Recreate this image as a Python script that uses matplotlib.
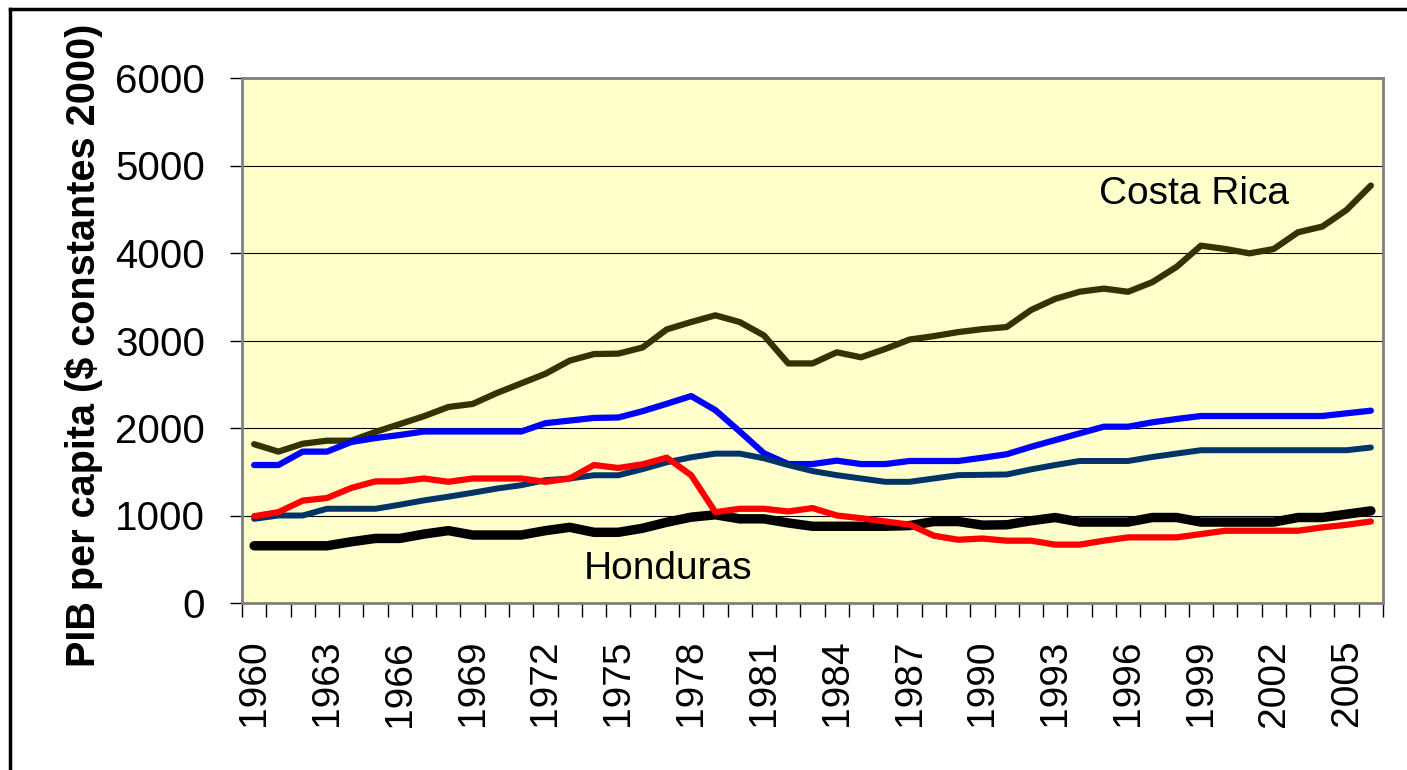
import matplotlib
matplotlib.use("Agg")
import matplotlib.pyplot as plt
from matplotlib.lines import Line2D
from matplotlib.ticker import FixedLocator, NullFormatter
from matplotlib import font_manager

years = list(range(1960, 2007))

costa_rica = [1815, 1730, 1820, 1855, 1855, 1955, 2045, 2135, 2240, 2275,
              2400, 2510, 2620, 2770, 2845, 2850, 2920, 3127, 3211, 3288,
              3211, 3058, 2738, 2738, 2865, 2808, 2904, 3011, 3050, 3096,
              3130, 3154, 3348, 3476, 3557, 3593, 3557, 3667, 3842, 4084,
              4046, 3996, 4046, 4237, 4302, 4492, 4771]

blue_series = [1577, 1577, 1730, 1730, 1840, 1885, 1920, 1960, 1960, 1960,
               1960, 1960, 2055, 2085, 2115, 2120, 2192, 2277, 2365, 2204,
               1961, 1711, 1588, 1588, 1627, 1588, 1588, 1623, 1623, 1623,
               1660, 1700, 1785, 1862, 1938, 2015, 2015, 2065, 2103, 2137,
               2137, 2137, 2137, 2137, 2137, 2168, 2198]

navy_series = [962, 1000, 1000, 1077, 1077, 1077, 1123, 1173, 1215, 1260,
               1308, 1346, 1404, 1423, 1460, 1460, 1530, 1608, 1665, 1707,
               1707, 1654, 1577, 1508, 1461, 1423, 1385, 1385, 1423, 1461,
               1465, 1469, 1527, 1577, 1623, 1623, 1623, 1669, 1708, 1746,
               1746, 1746, 1746, 1746, 1746, 1746, 1777]

red_series = [992, 1038, 1170, 1200, 1315, 1390, 1390, 1423, 1385, 1423,
              1423, 1423, 1385, 1423, 1577, 1543, 1585, 1661, 1461, 1038,
              1077, 1077, 1046, 1085, 1000, 969, 931, 896, 769, 723,
              737, 712, 712, 667, 667, 712, 750, 750, 750, 788,
              826, 826, 826, 826, 864, 894, 932]

honduras = [654, 654, 654, 654, 700, 738, 738, 788, 827, 777,
            777, 777, 827, 865, 808, 808, 854, 923, 981, 1008,
            962, 962, 915, 877, 877, 877, 877, 885, 931, 931,
            890, 894, 940, 977, 925, 925, 925, 977, 977, 925,
            925, 925, 925, 977, 977, 1015, 1053]

label_years = years[::3]
yticks = [0, 1000, 2000, 3000, 4000, 5000, 6000]

plt.rcParams['font.family'] = ['Liberation Sans', 'DejaVu Sans']

installed = {f.name for f in font_manager.fontManager.ttflist}
if 'Liberation Sans Narrow' in installed:
    ytick_font = dict(family='Liberation Sans Narrow', size=35)
else:
    ytick_font = dict(family='Liberation Sans', size=29)

W, H = 1407, 770
fig = plt.figure(figsize=(W / 100, H / 100), dpi=100)
fig.patch.set_facecolor('white')

ax = fig.add_axes([242 / W, 1 - 603 / H, (1383 - 242) / W, (603 - 78) / H])
ax.set_facecolor('#FFFFCC')

x = list(range(len(years)))
kw = dict(solid_capstyle='round', solid_joinstyle='round')
ax.plot(x, costa_rica, color='#333300', lw=4.5, zorder=3, **kw)
ax.plot(x, blue_series, color='#0000FF', lw=4.5, zorder=3, **kw)
ax.plot(x, navy_series, color='#003366', lw=4.3, zorder=3, **kw)
ax.plot(x, red_series, color='#FF0000', lw=4.5, zorder=4, **kw)
ax.plot(x, honduras, color='#000000', lw=6.8, zorder=3, **kw)

ax.set_xlim(-0.5, len(years) - 0.5)
ax.set_ylim(0, 6000)

ax.set_yticks(yticks)
ax.set_yticklabels([str(v) for v in yticks])
for t in ax.get_yticklabels():
    t.set_fontfamily(ytick_font['family'])
    t.set_fontsize(ytick_font['size'])
ax.yaxis.grid(True, color='#000000', lw=0.8)
ax.set_axisbelow(True)
ax.tick_params(axis='y', direction='out', length=8.6, width=1, color='#000000', pad=18)

label_pos = [years.index(y) for y in label_years]
ax.set_xticks(label_pos)
ax.set_xticklabels([str(y) for y in label_years], rotation=90, fontsize=28)
ax.tick_params(axis='x', which='major', length=0, pad=26.5)
ax.xaxis.set_minor_locator(FixedLocator([i - 0.5 for i in range(len(years) + 1)]))
ax.xaxis.set_minor_formatter(NullFormatter())
ax.tick_params(axis='x', which='minor', direction='out', length=10, width=1, color='#000000')

for s in ax.spines.values():
    s.set_color('#808080')
    s.set_linewidth(2)

fig.text(84 / W, 1 - 345 / H, 'PIB per capita ($ constantes 2000)', fontsize=28.5,
         fontweight='bold', rotation=90, ha='center', va='center')

ax.text(38.7, 4675, 'Costa Rica', fontsize=28, ha='center', va='center', zorder=5)
ax.text(17.05, 389, 'Honduras', fontsize=28, ha='center', va='center', zorder=5)

fig.add_artist(Line2D([10 / W, 1.0], [1 - 9 / H, 1 - 9 / H], color='black', lw=2.5, transform=fig.transFigure))
fig.add_artist(Line2D([10 / W, 10 / W], [0.0, 1 - 9 / H], color='black', lw=2.5, transform=fig.transFigure))

fig.savefig('out.png', dpi=100)
